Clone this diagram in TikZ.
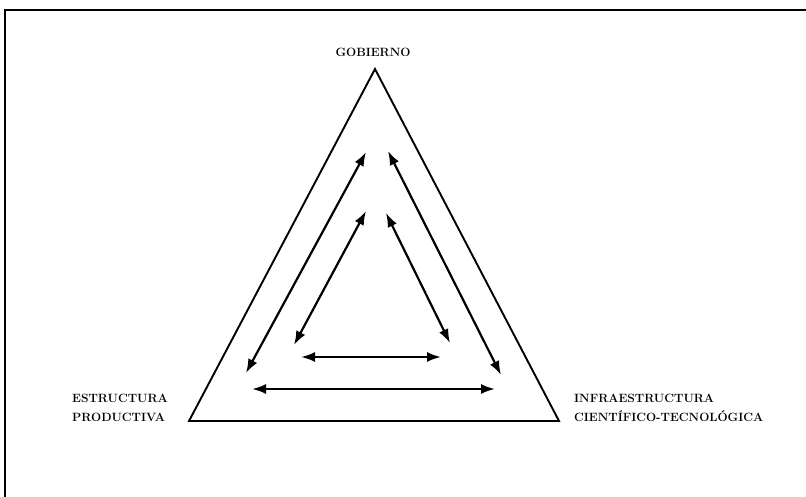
\documentclass[tikz,border=0pt]{standalone}
\usetikzlibrary{arrows.meta,positioning}

\begin{document}
\begin{tikzpicture}[
  x=1pt,y=-1pt,
  link/.style={{Latex[length=14pt,width=10pt]}-{Latex[length=14pt,width=10pt]},line width=2.2pt},
  side/.style={line width=1.9pt,line join=miter},
  tag/.style={font=\fontsize{12}{19}\selectfont\bfseries,align=left,inner sep=0pt}
]
\useasboundingbox (0,0) rectangle (806,497);
\draw[line width=1.6pt] (806,10) -- (5,10) -- (5,497);
% vertices
\coordinate (apex) at (375,69);
\coordinate (left) at (189,421);
\coordinate (right) at (559,421);
\draw[side] (apex) -- (left) -- (right) -- cycle;
% labels
\node[tag,anchor=base] (gob) at (373,57) {GOBIERNO};
\node[tag,anchor=base west] (prod) at (72,421) {ESTRUCTURA\\PRODUCTIVA};
\node[tag,anchor=base west] (infra) at (574,421) {INFRAESTRUCTURA\\CIENTÍFICO-TECNOLÓGICA};
% outer arrows
\coordinate (oa) at (366,152);
\coordinate (ob) at (246,373);
\coordinate (oc) at (388,151);
\coordinate (od) at (501,375);
\coordinate (oe) at (252,389);
\coordinate (of) at (495,389);
\draw[link] (oa) -- (ob);
\draw[link] (oc) -- (od);
\draw[link] (oe) -- (of);
% inner arrows
\coordinate (ia) at (366,211);
\coordinate (ib) at (294,345);
\coordinate (ic) at (386,213);
\coordinate (id) at (450,343);
\coordinate (ie) at (301,357);
\coordinate (if) at (441,357);
\draw[link] (ia) -- (ib);
\draw[link] (ic) -- (id);
\draw[link] (ie) -- (if);
\end{tikzpicture}
\end{document}
